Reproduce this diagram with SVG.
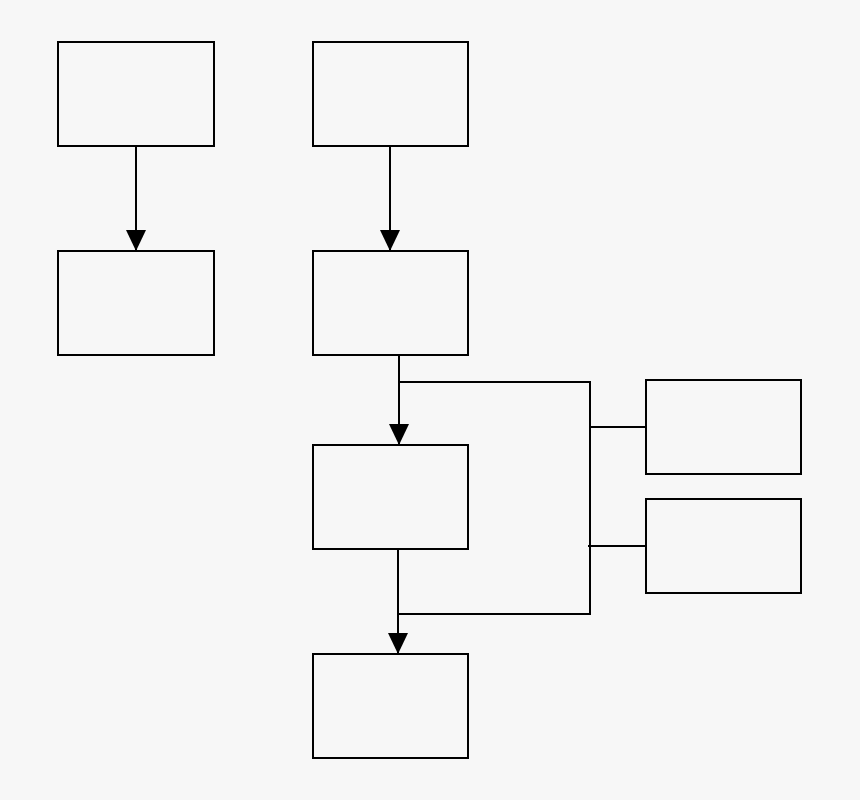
<svg xmlns="http://www.w3.org/2000/svg" width="860" height="800" viewBox="0 0 860 800">
<style>
.n{fill:none;stroke:#000;stroke-width:2}
.c{fill:none;stroke:#000;stroke-width:2}
</style>
<defs>
<marker id="ah" markerUnits="userSpaceOnUse" markerWidth="20" markerHeight="21" refX="10" refY="21" orient="auto" viewBox="0 0 20 21">
<path d="M0,0 L20,0 L10,21 Z" fill="#000" transform="rotate(-90 10 10.5) translate(0 0)"/>
</marker>
<marker id="a" markerUnits="userSpaceOnUse" markerWidth="21" markerHeight="20" refX="21" refY="10" orient="auto" viewBox="0 0 21 20">
<path d="M0,0 L21,10 L0,20 Z" fill="#000"/>
</marker>
</defs>
<rect width="860" height="800" fill="#f7f7f7"/>
<g id="connectors">
<line class="c" x1="136" y1="146" x2="136" y2="251" marker-end="url(#a)"/>
<line class="c" x1="390" y1="146" x2="390" y2="251" marker-end="url(#a)"/>
<line class="c" x1="399" y1="355" x2="399" y2="445" marker-end="url(#a)"/>
<line class="c" x1="398" y1="549" x2="398" y2="654" marker-end="url(#a)"/>
<polyline class="c" points="399,382 590,382 590,615"/>
<line class="c" x1="398" y1="614" x2="590" y2="614"/>
<line class="c" x1="590" y1="427" x2="646" y2="427"/>
<line class="c" x1="588" y1="546" x2="646" y2="546"/>
</g>
<g id="node1"><rect class="n" x="58" y="42" width="156" height="104"/></g>
<g id="node2"><rect class="n" x="313" y="42" width="155" height="104"/></g>
<g id="node3"><rect class="n" x="58" y="251" width="156" height="104"/></g>
<g id="node4"><rect class="n" x="313" y="251" width="155" height="104"/></g>
<g id="node5"><rect class="n" x="313" y="445" width="155" height="104"/></g>
<g id="node6"><rect class="n" x="313" y="654" width="155" height="104"/></g>
<g id="node7"><rect class="n" x="646" y="380" width="155" height="94"/></g>
<g id="node8"><rect class="n" x="646" y="499" width="155" height="94"/></g>
</svg>
